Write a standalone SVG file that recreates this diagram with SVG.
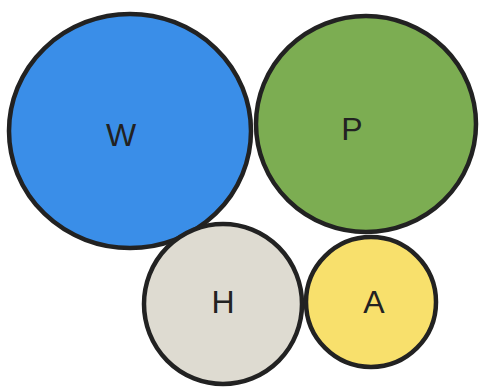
<svg xmlns="http://www.w3.org/2000/svg" width="481" height="391" viewBox="0 0 481 391">
<style>
.c{stroke:#222;stroke-width:4.5}
.t{font-family:"Liberation Sans",Arial,sans-serif;font-size:32px;fill:#222;text-anchor:middle}
</style>
<rect width="481" height="391" fill="#fff"/>
<g id="W"><ellipse class="c" cx="130" cy="131" rx="121" ry="117" fill="#3a8ee8"/><text class="t" x="121" y="146">W</text></g>
<g id="P"><ellipse class="c" cx="366" cy="124" rx="110" ry="108" fill="#7cad52"/><text class="t" x="352" y="140">P</text></g>
<g id="H"><ellipse class="c" cx="223" cy="304" rx="79" ry="80" fill="#dedbd1"/><text class="t" x="223" y="313">H</text></g>
<g id="A"><ellipse class="c" cx="371" cy="302" rx="65" ry="65" fill="#f8e06c"/><text class="t" x="374" y="313">A</text></g>
<g id="connectors"/>
</svg>
